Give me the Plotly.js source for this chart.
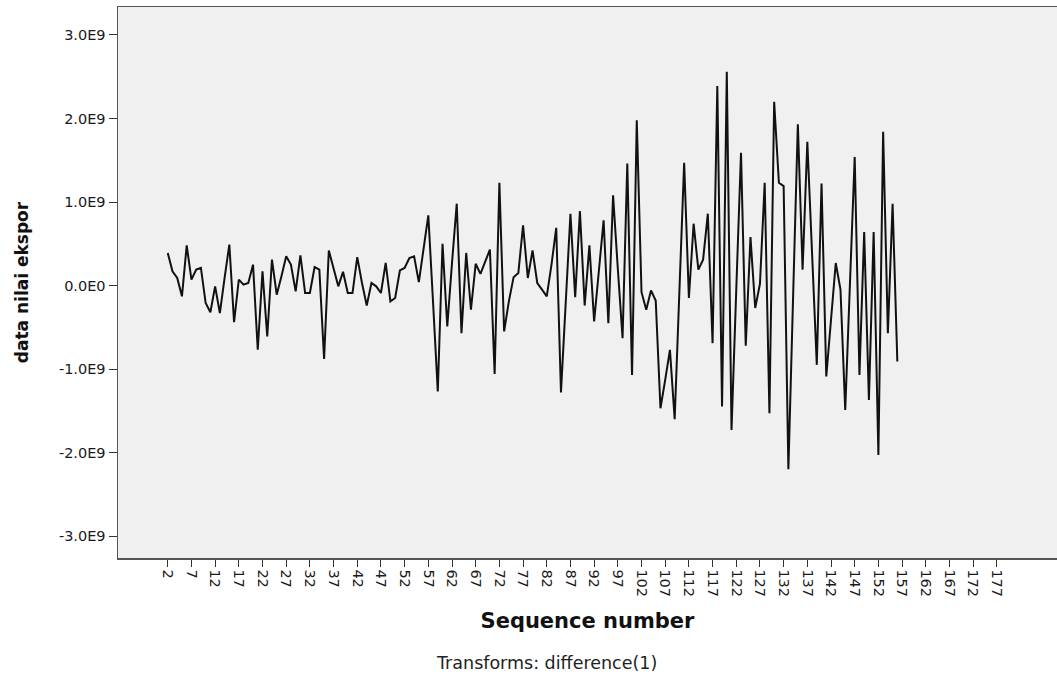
<!DOCTYPE html>
<html>
<head>
<meta charset="utf-8">
<script src="https://cdn.plot.ly/plotly-3.0.1.min.js"></script>
<style>
html,body{margin:0;padding:0;background:#fff;overflow:hidden;}
#chart{width:1057px;height:675px;}
</style>
</head>
<body>
<div id="chart"></div>
<script>
// Sequence numbers 2..156 and differenced export values (in units of 1E9)
const seqStart = 2;
const valuesE9 = [
 0.39, 0.17, 0.09, -0.13, 0.48, 0.07, 0.19, 0.21, -0.21, -0.32,
 -0.01, -0.33, 0.09, 0.49, -0.44, 0.07, 0.01, 0.03, 0.25, -0.77,
 0.17, -0.61, 0.31, -0.11, 0.11, 0.35, 0.25, -0.07, 0.36, -0.09,
 -0.09, 0.22, 0.19, -0.88, 0.42, 0.20, -0.01, 0.165, -0.09, -0.09,
 0.34, 0.03, -0.24, 0.03, -0.01, -0.09, 0.27, -0.19, -0.15, 0.18,
 0.21, 0.33, 0.35, 0.04, 0.45, 0.84, -0.20, -1.27, 0.50, -0.49,
 0.27, 0.98, -0.57, 0.39, -0.29, 0.26, 0.14, 0.28, 0.43, -1.06,
 1.23, -0.55, -0.19, 0.10, 0.15, 0.72, 0.09, 0.42, 0.03, -0.05,
 -0.13, 0.25, 0.69, -1.28, -0.21, 0.86, -0.14, 0.89, -0.24, 0.48,
 -0.43, 0.18, 0.78, -0.45, 1.08, 0.20, -0.63, 1.46, -1.07, 1.98,
 -0.08, -0.29, -0.06, -0.18, -1.47, -1.13, -0.77, -1.60, -0.07, 1.47,
 -0.15, 0.74, 0.19, 0.31, 0.86, -0.69, 2.39, -1.45, 2.56, -1.73,
 -0.05, 1.59, -0.72, 0.58, -0.27, 0.02, 1.23, -1.53, 2.20, 1.23,
 1.19, -2.20, -0.13, 1.93, 0.19, 1.72, 0.39, -0.95, 1.22, -1.09,
 -0.41, 0.27, -0.05, -1.49, 0.03, 1.54, -1.07, 0.64, -1.37, 0.64,
 -2.03, 1.84, -0.57, 0.98, -0.91
];
const xTickVals = [2,7,12,17,22,27,32,37,42,47,52,57,62,67,72,77,82,87,92,97,102,107,112,117,122,127,132,137,142,147,152,157,162,167,172,177];
const yTickVals = [3e9, 2e9, 1e9, 0, -1e9, -2e9, -3e9];
const yTickText = ["3.0E9","2.0E9","1.0E9","0.0E0","-1.0E9","-2.0E9","-3.0E9"];

const xs = valuesE9.map((v, k) => seqStart + k);
const ys = valuesE9.map(v => v * 1e9);

const font = "'DejaVu Sans', Verdana, sans-serif";

Plotly.newPlot('chart', [{
  x: xs, y: ys, type: 'scatter', mode: 'lines',
  line: {color: '#111111', width: 2},
  hoverinfo: 'skip'
}], {
  width: 1057, height: 675,
  margin: {l: 118, r: 0, t: 7, b: 117},
  paper_bgcolor: '#ffffff',
  plot_bgcolor: '#f0f0f0',
  showlegend: false,
  font: {family: font, color: '#222222', size: 14},
  xaxis: {
    range: [-8.5, 189.7],
    tickmode: 'array', tickvals: xTickVals, ticktext: xTickVals.map(String),
    tickangle: 90, ticks: 'outside', ticklen: 7, tickwidth: 1, tickcolor: '#333',
    showgrid: false, zeroline: false,
    showline: true, linecolor: '#555', linewidth: 1.5, mirror: true,
    tickfont: {family: font, size: 14.5, color: '#1a1a1a'},
    title: {text: 'Sequence number', font: {family: font, size: 21, weight: 'bold', color: '#111'}, standoff: 17}
  },
  yaxis: {
    range: [-3.263e9, 3.335e9],
    tickmode: 'array', tickvals: yTickVals, ticktext: yTickText,
    ticks: 'outside', ticklen: 8, tickwidth: 1, tickcolor: '#333',
    showgrid: false, zeroline: false,
    showline: true, linecolor: '#555', linewidth: 1.5,
    tickfont: {family: font, size: 14.5, color: '#1a1a1a'},
    title: {text: 'data nilai ekspor', font: {family: font, size: 17, weight: 'bold', color: '#111'}, standoff: 26}
  },
  annotations: [{
    text: 'Transforms: difference(1)', xref: 'paper', yref: 'paper',
    x: 0.456, y: -0.19, xanchor: 'center', yanchor: 'middle', showarrow: false,
    font: {family: font, size: 17.5, color: '#222'}
  }]
}, {staticPlot: true, displayModeBar: false});
</script>
</body>
</html>
